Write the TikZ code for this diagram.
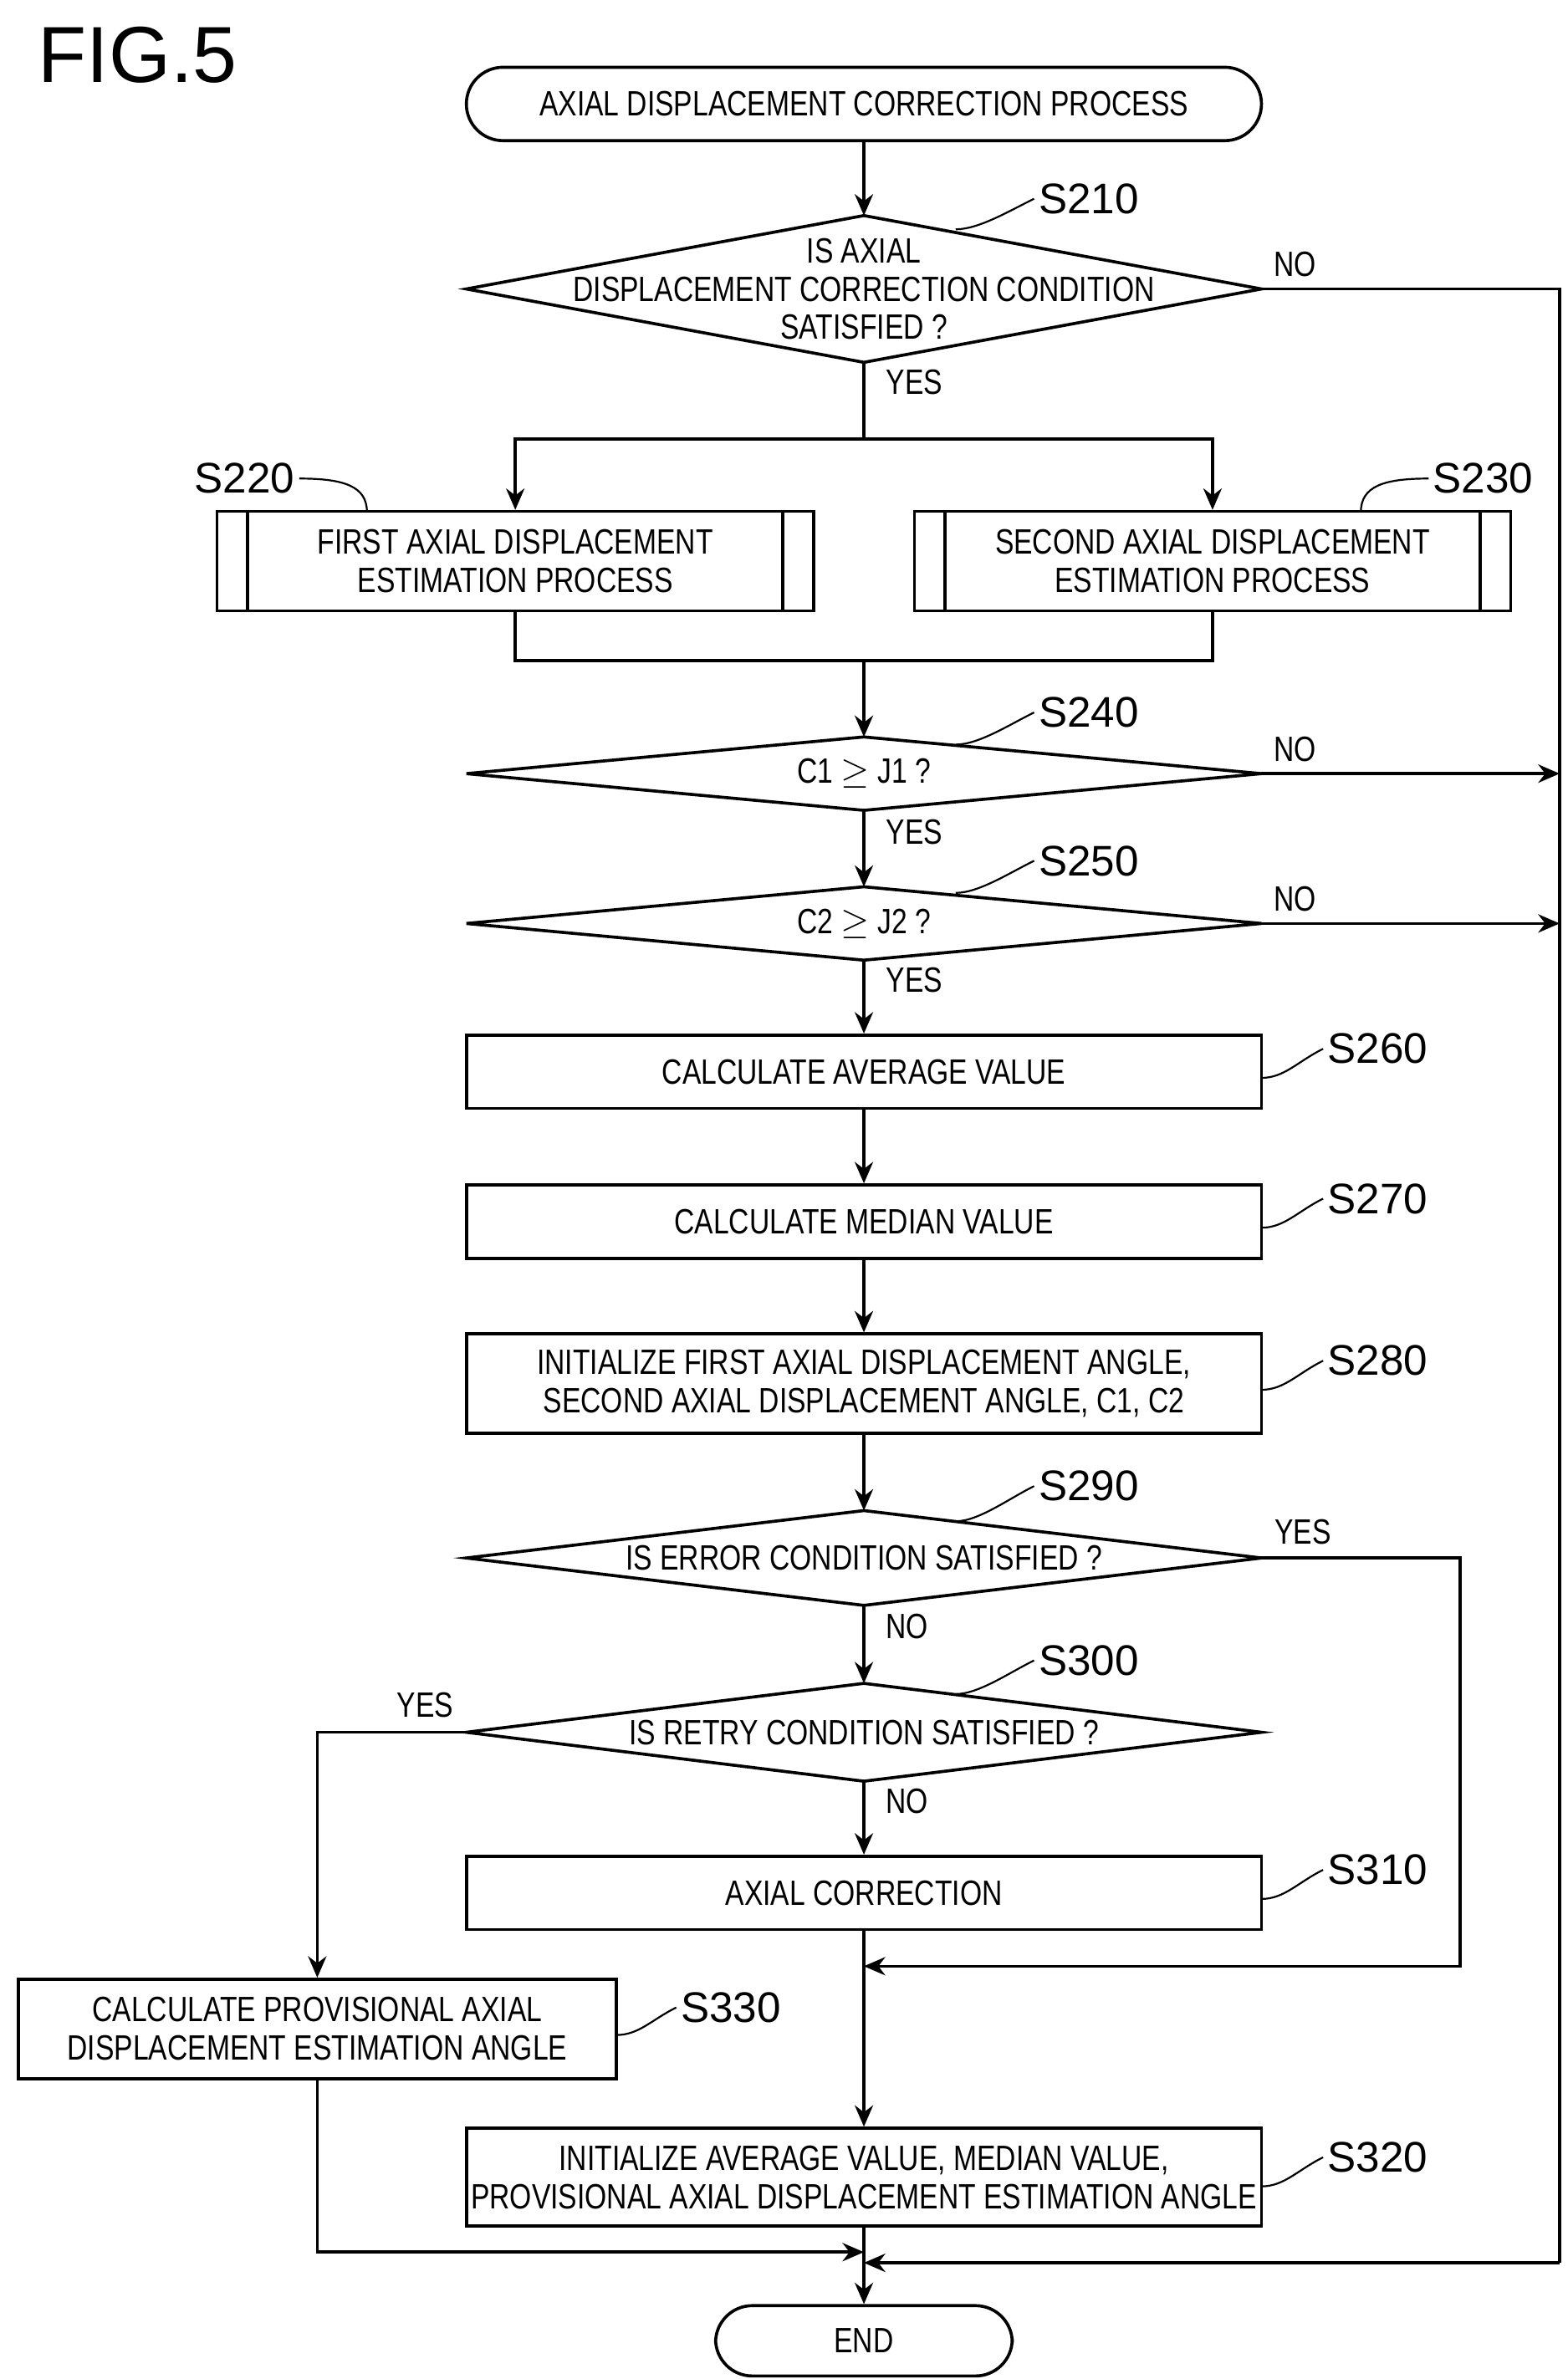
\documentclass[tikz,border=0pt]{standalone}
\usepackage{fontspec}
\setmainfont{Liberation Sans}[FakeStretch=0.8]
\newfontfamily\labfont{Liberation Sans}
\usetikzlibrary{shapes.geometric,arrows.meta}
\begin{document}
\begin{tikzpicture}[x=0.5pt,y=-0.5pt,
 line width=1pt, >={Stealth[length=7pt,width=6pt]},
 box/.style={draw,minimum width=260pt,align=center,font=\fontsize{11.5}{12.5}\selectfont,inner sep=0pt},
 dia/.style={draw,diamond,aspect=5,inner sep=0pt,align=center,font=\fontsize{11.5}{12.5}\selectfont},
 term/.style={draw,rounded corners=12pt,align=center,font=\fontsize{11.5}{12.5}\selectfont,inner sep=0pt},
 lab/.style={font=\labfont\fontsize{14}{14}\selectfont,inner sep=1pt},
 yn/.style={font=\fontsize{11.5}{12}\selectfont,inner sep=0pt}]
\useasboundingbox (0,0) rectangle (1025,1556);
\node[font=\labfont\fontsize{26}{26}\selectfont] (fig) at (90,36) {FIG.5};
\node[term,minimum width=260pt,minimum height=24pt] (start) at (565,68) {AXIAL DISPLACEMENT CORRECTION PROCESS};
% diamonds as explicit polygons via nodes of fixed size
\newcommand{\dmd}[4]{% name, cy, half height, text
 \coordinate (#1-n) at (565,#2-#3); \coordinate (#1-s) at (565,#2+#3);
 \coordinate (#1-w) at (305,#2); \coordinate (#1-e) at (825,#2);
 \draw (#1-n)--(#1-e)--(#1-s)--(#1-w)--cycle;
 \node[align=center,font=\fontsize{11.5}{12.5}\selectfont] (#1) at (565,#2) {#4};}
\dmd{s210}{189}{48}{IS AXIAL\\DISPLACEMENT CORRECTION CONDITION\\SATISFIED ?}
\dmd{s240}{506}{24}{C1 $\geq$ J1 ?}
\dmd{s250}{604}{24}{C2 $\geq$ J2 ?}
\dmd{s290}{1019}{31}{IS ERROR CONDITION SATISFIED ?}
\dmd{s300}{1133}{32}{IS RETRY CONDITION SATISFIED ?}
\node[box,minimum width=195pt,minimum height=32.5pt] (s220) at (337,367) {FIRST AXIAL DISPLACEMENT\\ESTIMATION PROCESS};
\draw (162,335)--(162,400) (512,335)--(512,400);
\node[box,minimum width=195pt,minimum height=32.5pt] (s230) at (793,367) {SECOND AXIAL DISPLACEMENT\\ESTIMATION PROCESS};
\draw (618,335)--(618,400) (968,335)--(968,400);
\node[box,minimum height=24pt] (s260) at (565,701) {CALCULATE AVERAGE VALUE};
\node[box,minimum height=24pt] (s270) at (565,799) {CALCULATE MEDIAN VALUE};
\node[box,minimum height=32.5pt] (s280) at (565,905) {INITIALIZE FIRST AXIAL DISPLACEMENT ANGLE,\\SECOND AXIAL DISPLACEMENT ANGLE, C1, C2};
\node[box,minimum height=24pt] (s310) at (565,1238) {AXIAL CORRECTION};
\node[box,minimum height=32pt] (s320) at (565,1424) {INITIALIZE AVERAGE VALUE, MEDIAN VALUE,\\PROVISIONAL AXIAL DISPLACEMENT ESTIMATION ANGLE};
\node[box,minimum width=195.5pt,minimum height=32.5pt] (s330) at (207.5,1327) {CALCULATE PROVISIONAL AXIAL\\DISPLACEMENT ESTIMATION ANGLE};
\node[term,minimum width=97pt,minimum height=23pt] (end) at (565,1531) {END};
% connectors
\coordinate (j1) at (565,287); \coordinate (j2) at (565,432);
\coordinate (rt) at (1020,189); \coordinate (rb) at (1020,1480); \coordinate (m1) at (565,1480);
\coordinate (m2) at (565,1473); \coordinate (m3) at (565,1286);
\draw[->] (start)--(s210-n);
\draw (s210-s)--(j1);
\draw[->] (j1)-|(s220.north);
\draw[->] (j1)-|(s230.north);
\draw (s220.south)|-(j2) (s230.south)|-(j2);
\draw[->] (j2)--(s240-n);
\draw[->] (s240-s)--(s250-n);
\draw[->] (s250-s)--(s260);
\draw[->] (s260)--(s270);
\draw[->] (s270)--(s280);
\draw[->] (s280)--(s290-n);
\draw[->] (s290-s)--(s300-n);
\draw[->] (s300-s)--(s310);
\draw[->] (s310)--(s320);
\draw[->] (s320)--(end);
\draw (s210-e)--(rt)--(rb);
\draw[->] (rb)--(m1);
\draw[->] (s240-e)--(s240-e-|rt);
\draw[->] (s250-e)--(s250-e-|rt);
\draw[->] (s290-e)-|(955,1286)--(m3);
\draw[->] (s300-w)-|(s330.north);
\draw[->] (s330.south)|-(m2);
% yes/no
\node[yn] at (847,173) {NO};
\node[yn] at (598,250) {YES};
\node[yn] at (847,490) {NO};
\node[yn] at (598,544) {YES};
\node[yn] at (847,588) {NO};
\node[yn] at (598,641) {YES};
\node[yn] at (852,1002) {YES};
\node[yn] at (593,1064) {NO};
\node[yn] at (278,1115) {YES};
\node[yn] at (593,1178) {NO};
% step labels
\newcommand{\stp}[5]{\node[lab] (l#1) at (#2,#3) {S#1}; \draw[line width=0.6pt] (#4,#5) .. controls (#4+15,#5) and (#2-52,#3+8) .. (l#1.west);}
\stp{210}{712}{130}{625}{150}
\stp{240}{712}{466}{625}{487}
\stp{250}{712}{563}{625}{584}
\stp{290}{712}{972}{625}{995}
\stp{300}{712}{1086}{625}{1108}
\stp{260}{901}{686}{825}{705}
\stp{270}{901}{784}{825}{803}
\stp{280}{901}{890}{825}{909}
\stp{310}{901}{1223}{825}{1242}
\stp{320}{901}{1411}{825}{1430}
\stp{330}{478}{1313}{403}{1331}
\node[lab] (l220) at (160,313) {S220};
\draw[line width=0.6pt] (l220.east) .. controls (225,313) and (240,318) .. (240,335);
\node[lab] (l230) at (970,313) {S230};
\draw[line width=0.6pt] (l230.west) .. controls (905,313) and (890,318) .. (890,335);
\end{tikzpicture}
\end{document}
